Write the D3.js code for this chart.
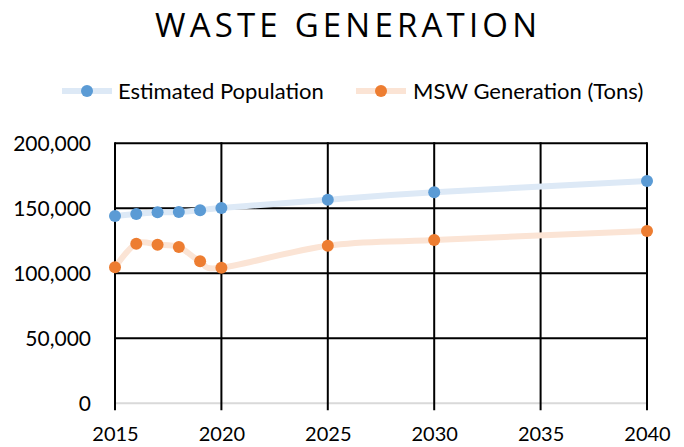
<!DOCTYPE html>
<html><head><meta charset="utf-8">
<script src="https://cdn.jsdelivr.net/npm/d3@7"></script>
<style>body{margin:0;background:#fff}svg{display:block}</style>
</head><body>
<svg id="c" width="684" height="447"></svg>
<script>
const years = [2015, 2016, 2017, 2018, 2019, 2020, 2025, 2030, 2040];
const population = [144100, 145600, 146900, 147200, 148500, 150200, 156600, 162300, 171000];
const msw = [104600, 122800, 122000, 120200, 109200, 104300, 121200, 125600, 132500];
const xTicks = [2015, 2020, 2025, 2030, 2035, 2040];
const yTicks = [0, 50000, 100000, 150000, 200000];
const seriesNames = ["Estimated Population", "MSW Generation (Tons)"];
const title = "WASTE GENERATION";

const FONT = "Lato, 'Open Sans', sans-serif";
const svg = d3.select("#c");
const x = d3.scaleLinear().domain([2015, 2040]).range([115, 647]);
const y = d3.scaleLinear().domain([0, 200000]).range([403.3, 143.3]);

const t = svg.append("text").attr("x", 155).attr("y", 37)
  .attr("font-family", "'Open Sans', Lato, sans-serif").attr("font-size", 33).attr("fill", "#000").text(title);
const tw = t.node().getComputedTextLength();
t.attr("letter-spacing", (382 - tw) / (title.length - 1));

// horizontal gridlines
const g = svg.append("g");
g.selectAll("line.h").data(yTicks.filter(d => d > 0)).join("line")
  .attr("x1", x(2015)).attr("x2", x(2040)).attr("y1", d => y(d)).attr("y2", d => y(d))
  .attr("stroke", "#000").attr("stroke-width", 2);
// baseline
g.append("line").attr("x1", x(2015)).attr("x2", x(2040)).attr("y1", y(0)).attr("y2", y(0))
  .attr("stroke", "#d9d9d9").attr("stroke-width", 2);
// vertical gridlines + ticks
g.selectAll("line.v").data(xTicks).join("line")
  .attr("x1", d => x(d)).attr("x2", d => x(d)).attr("y1", y(200000) - 1).attr("y2", y(0) + 7)
  .attr("stroke", "#000").attr("stroke-width", 2);

// axes labels
const yAxis = d3.axisLeft(y).tickValues(yTicks).tickFormat(d3.format(",")).tickSize(0).tickPadding(24);
const ya = svg.append("g").attr("transform", `translate(${x(2015)},0)`).call(yAxis);
ya.select(".domain").remove();
ya.selectAll("text").attr("font-family", FONT).attr("font-size", 21).attr("fill", "#000");

const xAxis = d3.axisBottom(x).tickValues(xTicks).tickFormat(d3.format("d")).tickSize(0).tickPadding(24);
const xa = svg.append("g").attr("transform", `translate(0,${y(0)})`).call(xAxis);
xa.select(".domain").remove();
xa.selectAll("text").attr("font-family", FONT).attr("font-size", 20).attr("fill", "#000");

const line = d3.line().x((d, i) => x(years[i])).y(d => y(d)).curve(d3.curveCardinal.tension(0));
const series = [
  {vals: population, line: "#dde9f6", dot: "#5b9bd5"},
  {vals: msw, line: "#fbe4d5", dot: "#ed7d31"}
];
series.forEach(s => {
  svg.append("path").attr("d", line(s.vals)).attr("fill", "none")
    .attr("stroke", s.line).attr("stroke-width", 6).attr("stroke-linecap", "round");
});
series.forEach(s => {
  svg.append("g").selectAll("circle").data(s.vals).join("circle")
    .attr("cx", (d, i) => x(years[i])).attr("cy", d => y(d)).attr("r", 6).attr("fill", s.dot);
});

// legend
const leg = [{cx: 87, tx: 118}, {cx: 381, tx: 413}];
leg.forEach((l, i) => {
  svg.append("line").attr("x1", l.cx - 25).attr("x2", l.cx + 25).attr("y1", 91).attr("y2", 91)
    .attr("stroke", series[i].line).attr("stroke-width", 6);
  svg.append("circle").attr("cx", l.cx).attr("cy", 91).attr("r", 6).attr("fill", series[i].dot);
  svg.append("text").attr("x", l.tx).attr("y", 99).attr("font-family", FONT).attr("font-size", 22)
    .attr("fill", "#000").text(seriesNames[i]);
});
</script>
</body></html>
